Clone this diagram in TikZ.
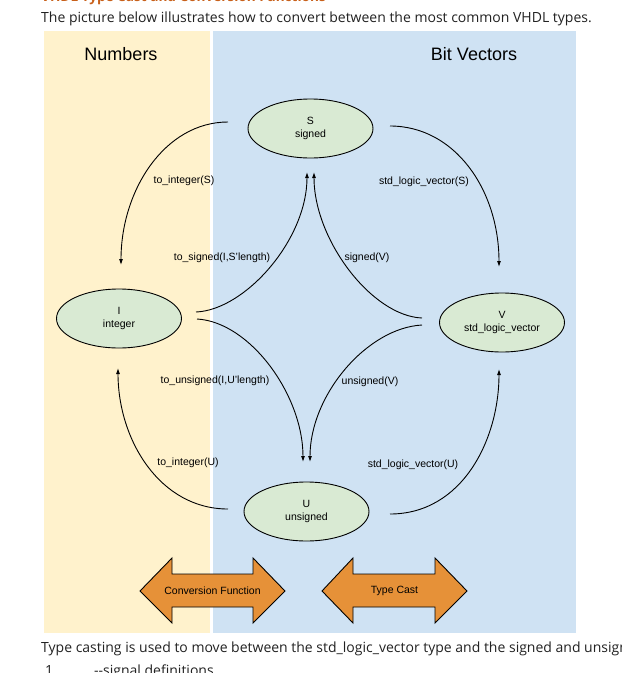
\documentclass[tikz,border=0pt]{standalone}
\usepackage{fontspec}
\setmainfont{Liberation Sans}
\newfontfamily\pagefont{Open Sans}
\usetikzlibrary{arrows.meta,shapes.geometric}
\definecolor{numbg}{HTML}{FFF2CC}
\definecolor{bitbg}{HTML}{CFE2F3}
\definecolor{ellfill}{HTML}{D9EAD3}
\definecolor{bigarrow}{HTML}{E69138}
\definecolor{pagetext}{HTML}{222222}
\definecolor{titletext}{HTML}{C8601A}
\tikzset{
  typenode/.style={ellipse, draw=black, line width=0.9pt, fill=ellfill, minimum width=125pt, minimum height=59pt, inner sep=0pt, align=center, font=\fontsize{10.5}{13}\selectfont},
  conv/.style={line width=0.9pt, -{Latex[length=6pt,width=4pt]}},
  lbl/.style={inner sep=0pt, font=\fontsize{10.5}{13}\selectfont},
  heading/.style={inner sep=0pt, font=\fontsize{18}{20}\selectfont},
  bigarr/.style={draw=black, line width=0.9pt, fill=bigarrow, line join=miter},
  pagetxt/.style={inner sep=0pt, anchor=base west, text=pagetext, font=\pagefont\fontsize{14}{17}\selectfont}
}
\begin{document}
\begin{tikzpicture}[x=1pt,y=-1pt]
\useasboundingbox (0,0) rectangle (622,673);
\clip (0,0) rectangle (622,673);
\fill[white] (0,0) rectangle (622,673);
% page text
\node[pagetxt, text=titletext, font=\pagefont\bfseries\fontsize{13.6}{16}\selectfont] (title) at (41,1) {VHDL Type Cast and Conversion Functions};
\node[pagetxt] (intro) at (41,22) {The picture below illustrates how to convert between the most common VHDL types.};
\node[pagetxt] (outro) at (41,652) {Type casting is used to move between the std\_logic\_vector type and the signed and unsigned types.};
\node[pagetxt] (lineno) at (45,675) {1};
\node[pagetxt] (code) at (94,675) {-{}-signal definitions};
% backgrounds
\fill[numbg] (44,31) rectangle (210,633);
\fill[bitbg] (213,31) rectangle (576,633);
\node[heading] (numbers) at (121,54) {Numbers};
\node[heading] (bitvec) at (474,54) {Bit Vectors};
% type nodes
\node[typenode] (S) at (310.5,128.5) {S\\signed};
\node[typenode] (I) at (119,318.5) {I\\integer};
\node[typenode] (V) at (502,322.5) {V\\std\_logic\_vector};
\node[typenode] (U) at (306.5,511.5) {U\\unsigned};
% connector endpoints
\coordinate (sL) at (228,122);
\coordinate (iT) at (121,265);
\coordinate (sR) at (390,126);
\coordinate (vT) at (499,267);
\coordinate (iR1) at (196,312);
\coordinate (sB1) at (307,172);
\coordinate (vL1) at (422,318);
\coordinate (sB2) at (314,172);
\coordinate (iR2) at (197,319);
\coordinate (uT1) at (303,462);
\coordinate (vL2) at (422,325);
\coordinate (uT2) at (310,462);
\coordinate (uL) at (228,509);
\coordinate (iB) at (118,368);
\coordinate (uR) at (390,514);
\coordinate (vB) at (499,369);
% connectors
\draw[conv] (sL) .. controls (165,122) and (121,190) .. (iT);
\draw[conv] (sR) .. controls (455,126) and (499,190) .. (vT);
\draw[conv] (iR1) .. controls (245,310) and (307,240) .. (sB1);
\draw[conv] (vL1) .. controls (372,316) and (314,240) .. (sB2);
\draw[conv] (iR2) .. controls (250,322) and (303,395) .. (uT1);
\draw[conv] (vL2) .. controls (367,328) and (310,395) .. (uT2);
\draw[conv] (uL) .. controls (160,509) and (118,440) .. (iB);
\draw[conv] (uR) .. controls (462,514) and (499,440) .. (vB);
% labels
\node[lbl] (l1) at (184,181) {to\_integer(S)};
\node[lbl] (l2) at (424,182) {std\_logic\_vector(S)};
\node[lbl] (l3) at (222,258) {to\_signed(I,S'length)};
\node[lbl] (l4) at (367,258) {signed(V)};
\node[lbl] (l5) at (215,381) {to\_unsigned(I,U'length)};
\node[lbl] (l6) at (370,382) {unsigned(V)};
\node[lbl] (l7) at (188,463) {to\_integer(U)};
\node[lbl] (l8) at (413,465) {std\_logic\_vector(U)};
% big double arrows
\draw[bigarr] (140,591) -- (172,558) -- (172,574) -- (253,574) -- (253,558) -- (285,591) -- (253,623) -- (253,607) -- (172,607) -- (172,623) -- cycle;
\node[lbl] (cf) at (212.5,591) {Conversion Function};
\draw[bigarr] (322,591) -- (353,558) -- (353,574) -- (435,574) -- (435,558) -- (467,591) -- (435,623) -- (435,607) -- (353,607) -- (353,623) -- cycle;
\node[lbl] (tc) at (394.5,591) {Type Cast};
\end{tikzpicture}
\end{document}
